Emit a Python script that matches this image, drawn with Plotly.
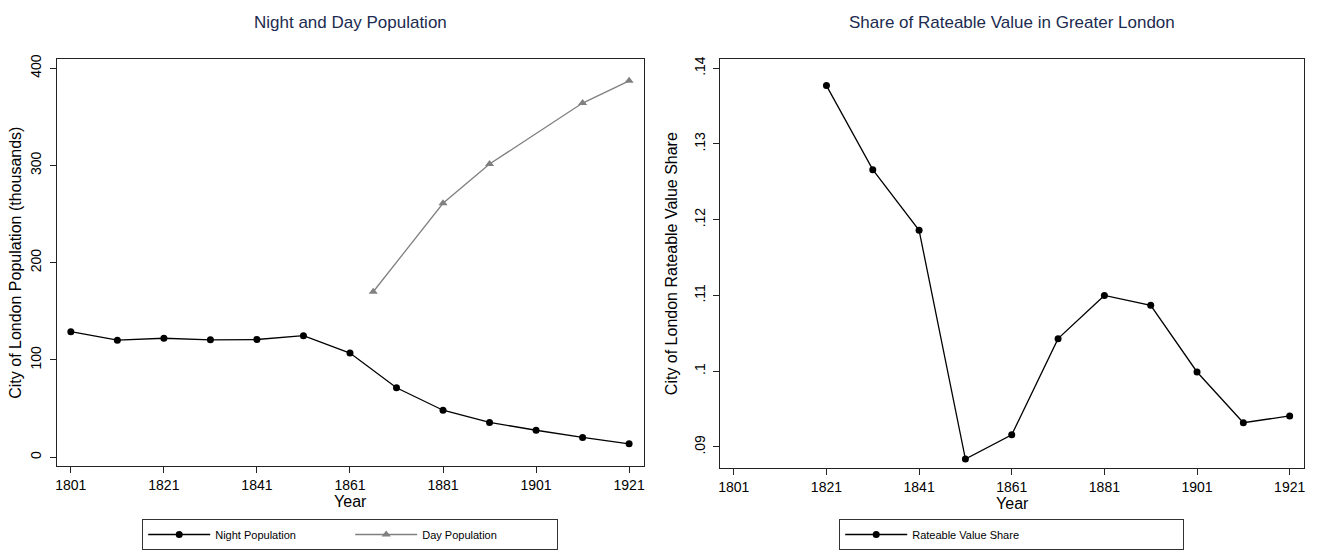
import plotly.graph_objects as go

# ---- data ----
night_years = [1801, 1811, 1821, 1831, 1841, 1851, 1861, 1871, 1881, 1891, 1901, 1911, 1921]
night_pop = [129.1, 120.3, 122.3, 120.7, 121.0, 125.0, 107.1, 71.4, 48.3, 35.8, 27.7, 20.3, 13.8]

day_years = [1866, 1881, 1891, 1911, 1921]
day_pop = [170.1, 261.1, 301.4, 364.1, 387.0]

share_years = [1821, 1831, 1841, 1851, 1861, 1871, 1881, 1891, 1901, 1911, 1921]
share_vals = [0.1377, 0.1266, 0.1186, 0.0884, 0.0916, 0.1043, 0.1100, 0.1087, 0.0999, 0.0932, 0.0941]

year_ticks = [1801, 1821, 1841, 1861, 1881, 1901, 1921]
pop_ticks = [0, 100, 200, 300, 400]
share_ticks = [0.09, 0.10, 0.11, 0.12, 0.13, 0.14]
share_ticktext = [".09", ".1", ".11", ".12", ".13", ".14"]

W, H = 1321, 550
FONT = "Liberation Sans, Arial, Helvetica, sans-serif"
NAVY = "#1c2b50"

fig = go.Figure()

fig.add_trace(go.Scatter(
    x=night_years, y=night_pop, name="Night Population", mode="lines+markers",
    line=dict(color="black", width=1.3), marker=dict(symbol="circle", size=7, color="black"),
    xaxis="x", yaxis="y", legend="legend"))
fig.add_trace(go.Scatter(
    x=day_years, y=day_pop, name="Day Population", mode="lines+markers",
    line=dict(color="#808080", width=1.3), marker=dict(symbol="triangle-up", size=8, color="#808080"),
    xaxis="x", yaxis="y", legend="legend"))
fig.add_trace(go.Scatter(
    x=share_years, y=share_vals, name="Rateable Value Share", mode="lines+markers",
    line=dict(color="black", width=1.3), marker=dict(symbol="circle", size=7, color="black"),
    xaxis="x2", yaxis="y2", legend="legend2"))

def px_x(p):
    return p / W

def px_y(p):
    return 1 - p / H

axis_common = dict(
    showline=True, linecolor="#222222", linewidth=1.2, mirror=True,
    ticks="outside", ticklen=6, tickcolor="#222222", tickwidth=1,
    showgrid=False, zeroline=False,
    tickfont=dict(family=FONT, size=14, color="black"),
)
TITLE_FONT = dict(family=FONT, size=16, color="black")

fig.update_layout(
    width=W, height=H,
    margin=dict(l=0, r=0, t=0, b=0),
    paper_bgcolor="white", plot_bgcolor="white",
    font=dict(family=FONT, color="black"),
    showlegend=True,
    xaxis=dict(domain=[px_x(55), px_x(643)], range=[1798.0, 1924.1], anchor="y",
               tickvals=year_ticks,
               title=dict(text="Year", font=TITLE_FONT, standoff=2), **axis_common),
    yaxis=dict(domain=[px_y(467), px_y(55)], range=[-9.1, 409.1], anchor="x",
               tickvals=pop_ticks, tickangle=-90, ticklabelstandoff=3,
               title=dict(text="City of London Population (thousands)", font=TITLE_FONT, standoff=2),
               **axis_common),
    xaxis2=dict(domain=[px_x(720), px_x(1305)], range=[1798.1, 1924.1], anchor="y2",
                tickvals=year_ticks,
                title=dict(text="Year", font=TITLE_FONT, standoff=2), **axis_common),
    yaxis2=dict(domain=[px_y(469), px_y(55)], range=[0.08722, 0.14117], anchor="x2",
                tickvals=share_ticks, ticktext=share_ticktext, tickangle=-90, ticklabelstandoff=3,
                title=dict(text="City of London Rateable Value Share", font=TITLE_FONT, standoff=10),
                **axis_common),
    legend=dict(orientation="h", x=349 / W, xanchor="center", y=px_y(521), yanchor="top",
                bordercolor="#333333", borderwidth=1, bgcolor="white",
                font=dict(family=FONT, size=11, color="black"),
                entrywidth=130, itemwidth=62, traceorder="normal"),
    legend2=dict(orientation="h", x=1012 / W, xanchor="center", y=px_y(521), yanchor="top",
                 bordercolor="#333333", borderwidth=1, bgcolor="white",
                 font=dict(family=FONT, size=11, color="black"),
                 entrywidth=266, itemwidth=62),
    annotations=[
        dict(text="Night and Day Population", x=349 / W, y=px_y(18), xref="paper", yref="paper",
             xanchor="center", yanchor="middle", showarrow=False,
             font=dict(family=FONT, size=17, color=NAVY)),
        dict(text="Share of Rateable Value in Greater London", x=1012 / W, y=px_y(18), xref="paper",
             yref="paper", xanchor="center", yanchor="middle", showarrow=False,
             font=dict(family=FONT, size=17, color=NAVY)),
    ],
)

fig.write_html("out.html", config={"displayModeBar": False},
               post_script="document.body.style.margin='0';")
